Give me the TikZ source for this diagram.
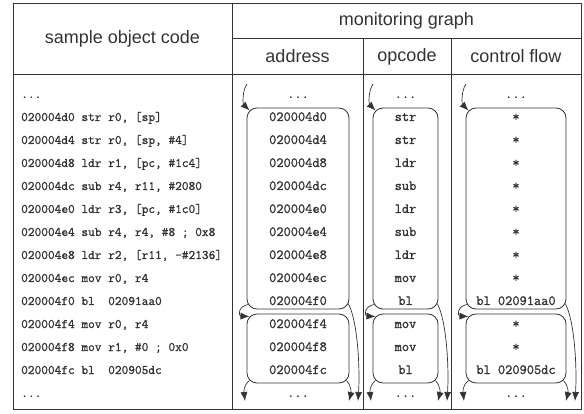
\documentclass[tikz,border=0pt]{standalone}
\usepackage{fontspec}
\setmainfont{Liberation Sans}
\newfontfamily\codefont[FakeBold=1.2]{Latin Modern Mono}
\usetikzlibrary{arrows.meta,calc}
\definecolor{ink}{HTML}{333333}
\tikzset{
  grid/.style={draw=ink, line width=0.8pt},
  hdr/.style={font=\fontsize{18}{18}\selectfont, text=ink, inner sep=0pt},
  codeline/.style={font=\codefont\fontsize{13}{13}\selectfont, text=ink, anchor=base west, inner sep=0pt},
  gtxt/.style={font=\codefont\fontsize{14}{14}\selectfont, text=ink, anchor=base, inner sep=0pt},
  blk/.style={draw=ink, line width=0.8pt, rounded corners=10pt, inner sep=0pt},
  flow/.style={draw=ink, line width=0.7pt, -{Latex[length=9pt,width=7pt]}}
}
\begin{document}
\begin{tikzpicture}[x=1pt,y=-1pt]
\useasboundingbox (0,0) rectangle (584,414);
% table
\draw[grid] (13,3) rectangle (581,409);
\draw[grid] (232,3) -- (232,409);
\draw[grid] (232,38) -- (581,38);
\draw[grid] (13,74) -- (581,74);
\draw[grid] (363,38) -- (363,409);
\draw[grid] (451,38) -- (451,409);
% headers
\node[hdr] (hsoc) at (122.5,38.5) {sample object code};
\node[hdr] (hmg) at (406.5,20.5) {monitoring graph};
\node[hdr] (hadr) at (297.5,56.5) {address};
\node[hdr] (hopc) at (407,56.5) {opcode};
\node[hdr] (hcf) at (516,56.5) {control flow};
% rows
\foreach \i/\c/\a/\o/\f in {
 0/{...}/{...}/{...}/{...},
 1/{020004d0 str r0, [sp]}/{020004d0}/{str}/{*},
 2/{020004d4 str r0, [sp, \#4]}/{020004d4}/{str}/{*},
 3/{020004d8 ldr r1, [pc, \#1c4]}/{020004d8}/{ldr}/{*},
 4/{020004dc sub r4, r11, \#2080}/{020004dc}/{sub}/{*},
 5/{020004e0 ldr r3, [pc, \#1c0]}/{020004e0}/{ldr}/{*},
 6/{020004e4 sub r4, r4, \#8 ; 0x8}/{020004e4}/{sub}/{*},
 7/{020004e8 ldr r2, [r11, -\#2136]}/{020004e8}/{ldr}/{*},
 8/{020004ec mov r0, r4}/{020004ec}/{mov}/{*},
 9/{020004f0 bl\ \ 02091aa0}/{020004f0}/{bl}/{bl 02091aa0},
 10/{020004f4 mov r0, r4}/{020004f4}/{mov}/{*},
 11/{020004f8 mov r1, \#0 ; 0x0}/{020004f8}/{mov}/{*},
 12/{020004fc bl\ \ 020905dc}/{020004fc}/{bl}/{bl 020905dc},
 13/{...}/{...}/{...}/{...}}{
  \pgfmathsetmacro\yy{98+23*\i}
  \node[codeline] (c\i) at (21,\yy) {\c};
  \node[gtxt] (a\i) at (298,\yy) {\a};
  \node[gtxt] (o\i) at (405.5,\yy) {\o};
  \node[gtxt] (f\i) at (516,\yy) {\f};
}
% blocks and flow arrows
\foreach \k/\L/\R in {a/247/349, o/373/438, f/466/566}{
  \node[blk, minimum width={\R-\L}, minimum height=201] (\k1) at ({(\L+\R)/2},208.5) {};
  \node[blk, minimum width={\R-\L}, minimum height=69] (\k2) at ({(\L+\R)/2},348.5) {};
  \coordinate (\k in) at (\L,84);
  \coordinate (\k bl) at ({\L-2},401);
  \coordinate (\k br) at (\R,401);
  \coordinate (\k lg) at ({\R+9},401);
  \draw[flow] (\k in) .. controls ({\L-5},91) and ({\L-4},104) .. ($(\k1.north west)+(2.9,2.9)$);
  \draw[flow] ($(\k1.south west)+(2,-5)$) .. controls ({\L-9},306) and ({\L-9},316) .. ($(\k2.north west)+(2.9,2.9)$);
  \draw[flow] ($(\k2.south west)+(2.9,-2.9)$) .. controls ({\L-4},386) and ({\L-3},392) .. (\k bl);
  \draw[flow] ($(\k2.south east)+(-2.9,-2.9)$) .. controls ({\R+3},387) and ({\R+2},393) .. (\k br);
  \draw[flow] ($(\k1.south east)+(-1,-5.6)$) .. controls ({\R+9},322) and ({\R+11},370) .. (\k lg);
}
\end{tikzpicture}
\end{document}
